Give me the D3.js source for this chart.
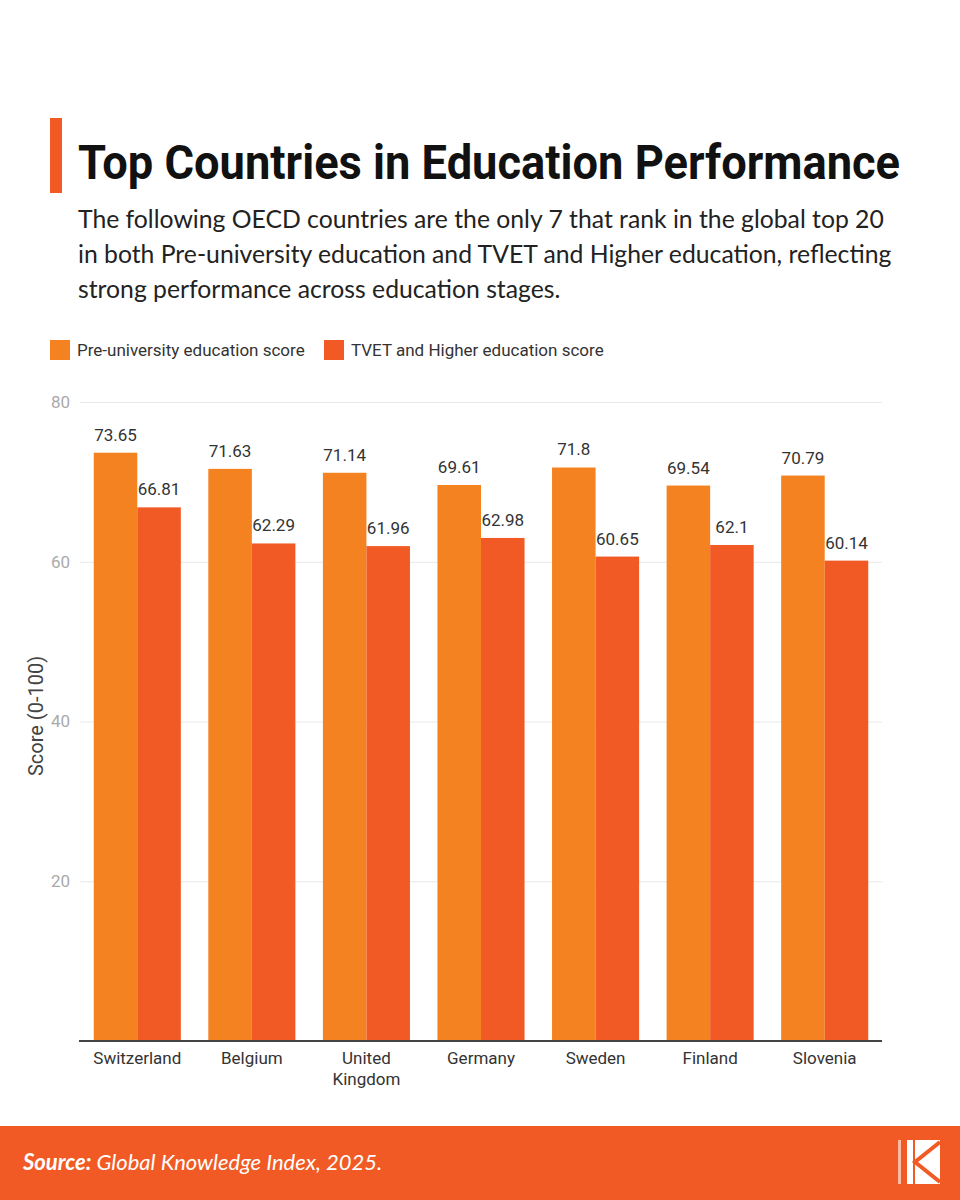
<!DOCTYPE html>
<meta charset="utf-8">
<style>
body { margin: 0; background: #fff; }
svg { display: block; }
.tick text { font-family: Roboto, sans-serif; }
</style>
<body>
<script src="https://cdn.jsdelivr.net/npm/d3@7"></script>
<script>

var countries = ["Switzerland", "Belgium", "United Kingdom", "Germany", "Sweden", "Finland", "Slovenia"];
var seriesNames = ["Pre-university education score", "TVET and Higher education score"];
var preUniversity = [73.65, 71.63, 71.14, 69.61, 71.8, 69.54, 70.79];
var tvetHigher = [66.81, 62.29, 61.96, 62.98, 60.65, 62.1, 60.14];
var yTicks = [20, 40, 60, 80];
var colors = ["#f58220", "#f15a24"];

var width = 960,
    height = 1200;

var svg = d3.select("body").append("svg")
    .attr("width", width)
    .attr("height", height);

// header
svg.append("rect")
    .attr("x", 50).attr("y", 118)
    .attr("width", 12).attr("height", 75)
    .attr("fill", colors[1]);

var title = svg.append("text")
    .attr("x", 78).attr("y", 179)
    .attr("font-family", "Roboto, sans-serif")
    .attr("font-weight", 700)
    .attr("font-size", 48)
    .attr("fill", "#111")
    .text("Top Countries in Education Performance");

// squeeze the title to the reference width
var tw = title.node().getComputedTextLength();
if (tw > 822) title.attr("textLength", 822).attr("lengthAdjust", "spacingAndGlyphs");

var subtitle = [
  "The following OECD countries are the only 7 that rank in the global top 20",
  "in both Pre-university education and TVET and Higher education, reflecting",
  "strong performance across education stages."
];

var sub = svg.append("g")
    .attr("font-family", "Lato, sans-serif")
    .attr("font-size", 23)
    .attr("fill", "#222");

sub.selectAll("text")
    .data(subtitle)
  .enter().append("text")
    .attr("x", 78)
    .attr("y", function(d, i) { return 228 + i * 35; })
    .text(function(d) { return d; });

// fit first line to ~806px
var sw = sub.select("text").node().getComputedTextLength();
sub.attr("font-size", 23 * 806 / sw);

// legend
var legendX = [50, 324];
var legend = svg.append("g")
    .attr("font-family", "Roboto, sans-serif")
    .attr("font-size", 17)
    .attr("fill", "#333");

var li = legend.selectAll("g")
    .data(seriesNames)
  .enter().append("g")
    .attr("transform", function(d, i) { return "translate(" + legendX[i] + ",340)"; });

li.append("rect")
    .attr("width", 20).attr("height", 20)
    .attr("fill", function(d, i) { return colors[i]; });

li.append("text")
    .attr("x", 27).attr("y", 16)
    .text(function(d) { return d; });

// chart
var margin = {left: 80, right: 78, top: 402, bottom: 159};
var x0 = d3.scaleBand()
    .domain(countries)
    .range([margin.left, width - margin.right])
    .paddingInner(0.24)
    .paddingOuter(0.12);

var x1 = d3.scaleBand()
    .domain([0, 1])
    .range([0, x0.bandwidth()]);

var y = d3.scaleLinear()
    .domain([0, 80])
    .range([height - margin.bottom, margin.top]);

// grid + y ticks
var yAxis = svg.append("g")
    .attr("transform", "translate(" + margin.left + ",0)")
    .call(d3.axisLeft(y)
        .tickValues(yTicks)
        .tickSize(-(width - margin.right - margin.left))
        .tickPadding(10));

yAxis.select(".domain").remove();
yAxis.selectAll(".tick line").attr("stroke", "#e8e8e8");
yAxis.selectAll(".tick text")
    .attr("font-size", 17)
    .attr("fill", "#aaa");

svg.append("text")
    .attr("transform", "translate(43,716) rotate(-90)")
    .attr("text-anchor", "middle")
    .attr("font-family", "Roboto, sans-serif")
    .attr("font-size", 20)
    .attr("fill", "#444")
    .text("Score (0-100)");

var rows = countries.map(function(c, i) {
  return {country: c, values: [preUniversity[i], tvetHigher[i]]};
});

var group = svg.append("g").selectAll("g")
    .data(rows)
  .enter().append("g")
    .attr("transform", function(d) { return "translate(" + x0(d.country) + ",0)"; });

group.selectAll("rect")
    .data(function(d) { return d.values; })
  .enter().append("rect")
    .attr("x", function(d, i) { return x1(i); })
    .attr("y", function(d) { return y(d); })
    .attr("width", x1.bandwidth())
    .attr("height", function(d) { return y(0) - y(d); })
    .attr("fill", function(d, i) { return colors[i]; });

group.selectAll("text")
    .data(function(d) { return d.values; })
  .enter().append("text")
    .attr("x", function(d, i) { return x1(i) + x1.bandwidth() / 2; })
    .attr("y", function(d) { return y(d) - 12; })
    .attr("text-anchor", "middle")
    .attr("font-family", "Roboto, sans-serif")
    .attr("font-size", 17)
    .attr("fill", "#333")
    .text(function(d) { return d; });

// x axis
var xAxis = svg.append("g")
    .attr("transform", "translate(0," + y(0) + ")")
    .call(d3.axisBottom(x0).tickSize(0).tickPadding(11));

xAxis.select(".domain")
    .attr("stroke", "#444")
    .attr("stroke-width", 2)
    .attr("d", "M" + (margin.left - 1) + ",0H" + (width - margin.right));

xAxis.selectAll(".tick text")
    .attr("font-size", 17)
    .attr("fill", "#333")
    .each(function(d) {
      var words = d.split(" ");
      if (words.length < 2) return;
      var t = d3.select(this).text(null);
      words.forEach(function(w, i) {
        t.append("tspan")
            .attr("x", 0)
            .attr("dy", i ? "1.25em" : "0.71em")
            .text(w);
      });
      t.attr("dy", null);
    });

// footer
svg.append("rect")
    .attr("x", 0).attr("y", 1126)
    .attr("width", width).attr("height", 74)
    .attr("fill", colors[1]);

var src = svg.append("text")
    .attr("x", 23).attr("y", 1170)
    .attr("font-family", "Lato, sans-serif")
    .attr("font-style", "italic")
    .attr("font-size", 22)
    .attr("fill", "#fff");
src.append("tspan").attr("font-weight", 700).text("Source:");
src.append("tspan").text(" Global Knowledge Index, 2025.");

// logo mark
var logo = svg.append("g").attr("transform", "translate(907,1140)");
logo.append("rect").attr("width", 33).attr("height", 44).attr("fill", "#fff");
logo.append("path")
    .attr("d", "M33,2 L8,22 L33,42")
    .attr("fill", "none")
    .attr("stroke", colors[1])
    .attr("stroke-width", 4);
logo.append("rect")
    .attr("x", 6).attr("y", 0)
    .attr("width", 2).attr("height", 44)
    .attr("fill", colors[1]);
svg.append("rect")
    .attr("x", 898).attr("y", 1140)
    .attr("width", 3).attr("height", 44)
    .attr("fill", "#fff")
    .attr("opacity", 0.6);
</script>
</body>
